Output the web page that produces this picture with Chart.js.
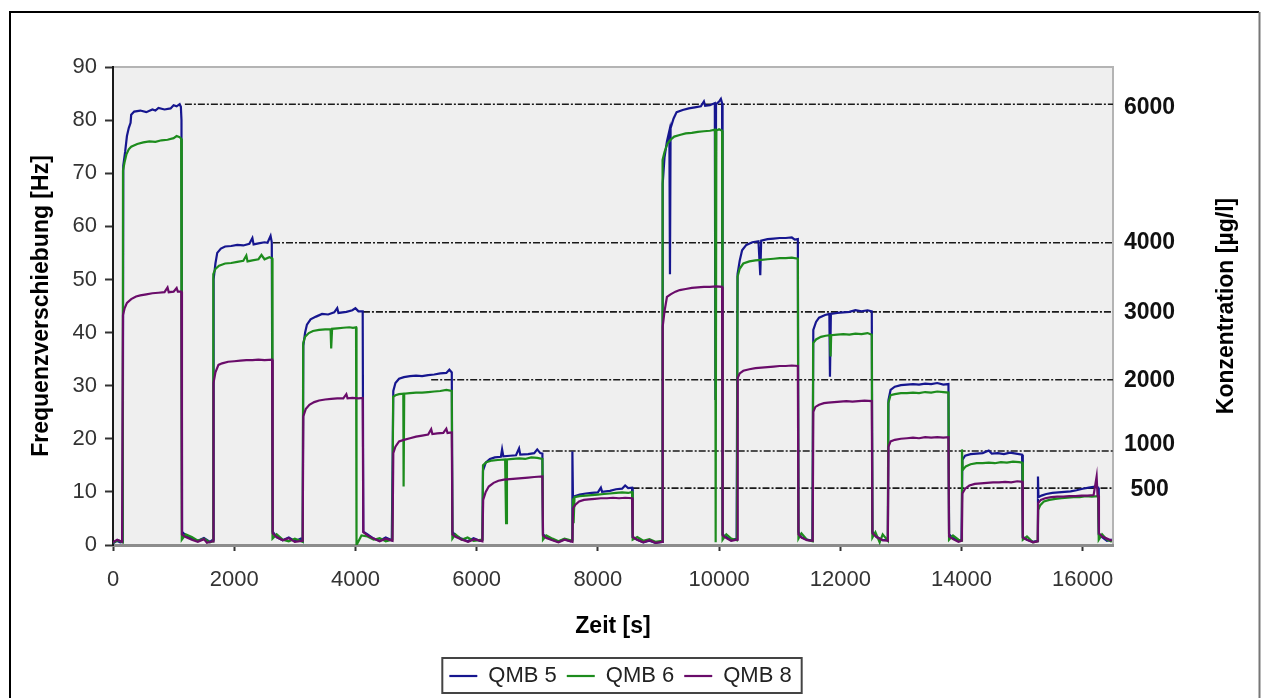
<!DOCTYPE html>
<html>
<head>
<meta charset="utf-8">
<script src="https://cdn.jsdelivr.net/npm/chart.js@4.4.1/dist/chart.umd.min.js"></script>
<style>
  html, body { margin: 0; padding: 0; background: #ffffff; }
  #wrap { position: relative; width: 1261px; height: 698px; overflow: hidden; }
  canvas { display: block; }
</style>
</head>
<body>
<div id="wrap"><canvas id="c" width="1261" height="698"></canvas></div>
<script>
// ---------- data ----------
const xTicks = [0, 2000, 4000, 6000, 8000, 10000, 12000, 14000, 16000];
const yTicks = [0, 10, 20, 30, 40, 50, 60, 70, 80, 90];
const concLabels = ['6000', '4000', '3000', '2000', '1000', '500'];
const concLabelPos = [82.3, 57.0, 43.7, 30.9, 18.8, 10.4];
const concLevels = [83.0, 56.9, 43.9, 31.1, 17.7, 10.7];
const concStarts = [1186, 2640, 4124, 5250, 7090, 8572];
const xEnd = 16500;
const seriesNames = ['QMB 5', 'QMB 6', 'QMB 8'];

const qmb5 = [
[0,0.3],[60,0.8],[120,0.5],[160,0.6],
[170,71.5],[200,74],[230,77],[260,78.5],[290,79.5],[300,81],[350,81.6],[450,81.8],[550,81.5],[650,82],[700,81.8],[750,82.3],[850,82],[950,82.2],[1000,82.8],[1050,82.6],[1100,83],[1120,82.5],[1130,80],
[1140,2.5],[1200,1.8],[1300,1.2],[1400,0.8],[1500,1.3],[1600,0.6],[1650,1],
[1660,50],[1690,53],[1720,55],[1780,55.8],[1850,56.2],[1950,56.3],[2050,56.5],[2150,56.4],[2250,56.7],[2300,57.8],[2320,56.6],[2400,56.8],[2500,57],[2550,56.9],[2600,58.2],[2620,57],
[2635,2.5],[2700,1.5],[2800,0.9],[2900,1.4],[3000,0.7],[3100,1.2],[3130,0.8],
[3140,37.5],[3170,40],[3200,41.5],[3260,42.5],[3350,43],[3450,43.5],[3550,43.4],[3650,43.8],[3700,44.6],[3720,43.7],[3850,43.9],[3950,44.2],[4000,44.6],[4050,44],[4120,44],
[4130,2.5],[4200,2],[4300,1.2],[4400,0.8],[4500,1.4],[4600,0.9],
[4625,29],[4660,30.5],[4720,31.3],[4800,31.6],[4900,31.8],[5000,31.9],[5100,31.8],[5200,32],[5300,32.1],[5400,32.3],[5500,32.4],[5550,33],[5590,32.5],
[5600,2.5],[5650,1.8],[5750,1.2],[5850,0.7],[5950,1.3],[6050,0.8],[6095,1],
[6105,14],[6150,15.5],[6220,16.2],[6300,16.5],[6400,16.6],[6420,18],[6440,16.7],[6550,16.8],[6650,16.9],[6700,18.2],[6720,17],[6850,17.1],[6950,17.3],[7000,18],[7050,17.3],[7085,17.2],
[7095,2],[7150,1.5],[7250,1],[7350,0.6],[7450,1.1],[7550,0.7],[7575,1],
[7580,17.6],[7590,8.5],
[7620,9.2],[7700,9.5],[7800,9.7],[7900,9.8],[8000,9.9],[8050,10.8],[8070,10],[8200,10.2],[8300,10.5],[8400,10.6],[8450,11.2],[8500,10.7],[8565,10.8],
[8575,1.5],[8650,1],[8750,0.5],[8850,0.8],[8950,0.4],[9060,0.6],
[9070,68],[9100,73],[9140,76],[9180,78],[9190,51],[9200,78.5],[9250,80.3],[9300,81.5],[9400,81.9],[9500,82.2],[9600,82.4],[9700,82.6],[9750,83.5],[9770,82.7],[9850,82.8],[9930,83.2],[9940,27.3],[9950,83],[10000,83.5],[10030,84],[10050,83.2],
[10058,2],[10120,1.5],[10200,0.9],[10290,1.2],
[10305,51],[10340,53.5],[10380,55.5],[10450,56.5],[10550,57],[10650,57.2],[10680,50.8],[10695,57.3],[10800,57.6],[10900,57.7],[11000,57.8],[11100,57.8],[11200,57.9],[11250,57.5],[11300,57.6],
[11310,2.5],[11350,1.5],[11450,1],[11540,0.8],
[11555,40.5],[11600,42],[11650,42.8],[11750,43.3],[11820,43.5],[11830,31.7],[11845,43.5],[11950,43.7],[12050,43.8],[12150,43.9],[12250,44.2],[12350,44],[12450,44.2],[12520,44],
[12530,2.5],[12600,1.5],[12700,0.9],[12785,1],
[12795,27.3],[12830,29.2],[12900,29.8],[13000,30.1],[13100,30.2],[13200,30.3],[13300,30.2],[13400,30.4],[13500,30.3],[13600,30.5],[13700,30.2],[13785,30.3],
[13795,2],[13860,1.3],[13950,0.8],[14000,1],
[14015,16],[14060,16.8],[14150,17.1],[14250,17.2],[14350,17.3],[14450,17.8],[14500,17.2],[14600,17.3],[14700,17.1],[14800,17.4],[14900,17.2],[15000,17],
[15012,1.5],[15080,1],[15180,0.6],[15255,0.8],
[15262,12.9],[15270,9],[15320,9.3],[15400,9.6],[15500,9.8],[15600,9.9],[15700,10],[15800,10.1],[15900,10.3],[16000,10.6],[16100,10.8],[16200,11],[16255,10.8],
[16265,2],[16320,1.5],[16400,0.8],[16480,1]
];

const qmb6 = [
[0,0.4],[80,0.9],[160,0.5],
[165,70.5],[190,72],[220,73.5],[260,74.5],[300,75],[400,75.5],[500,75.8],[600,76],[700,75.9],[800,76.2],[900,76.3],[1000,76.6],[1050,77],[1100,76.8],[1125,76.5],
[1135,1],[1200,2],[1300,1.5],[1400,0.8],[1500,1.2],[1600,0.5],[1650,0.7],
[1655,51],[1690,52],[1750,52.6],[1850,53],[1950,53.1],[2050,53.3],[2150,53.5],[2200,54.5],[2220,53.4],[2300,53.6],[2400,53.8],[2450,54.6],[2500,53.8],[2580,54.2],[2625,54],
[2632,1.2],[2700,2],[2800,1],[2900,0.7],[3000,1.2],[3130,0.6],
[3138,38],[3170,39.2],[3230,39.9],[3300,40.3],[3400,40.5],[3500,40.6],[3590,40.6],[3600,37],[3615,40.7],[3700,40.8],[3800,40.9],[3900,41],[3960,40.9],[4010,41],
[4018,0],[4100,1.8],[4200,1.6],[4300,1],[4400,1.3],[4500,0.7],[4610,1],
[4622,27.9],[4660,28.2],[4720,28.4],[4790,28.5],[4795,11],[4805,28.5],[4900,28.6],[5000,28.7],[5100,28.7],[5200,28.8],[5300,28.9],[5400,29],[5500,29.2],[5590,29],
[5600,1.2],[5650,2],[5750,1],[5850,1.4],[5950,0.8],[6095,1],
[6105,15],[6160,15.6],[6250,15.9],[6350,16],[6470,16.1],[6486,4.1],[6500,16.1],[6600,16.2],[6700,16.3],[6800,16.2],[6900,16.5],[7000,16.4],[7085,16.2],
[7095,1],[7150,1.8],[7250,1.2],[7350,0.7],[7450,1.2],[7580,0.8],
[7590,8.8],[7600,4.1],[7615,9],[7700,9.2],[7800,9.3],[7900,9.4],[8000,9.5],[8100,9.6],[8200,9.7],[8300,9.8],[8400,9.9],[8500,9.8],[8565,10],
[8575,1],[8650,1.5],[8750,0.8],[8850,1.1],[8950,0.6],[9060,0.8],
[9068,72.5],[9100,74],[9150,75.6],[9200,76.3],[9260,76.9],[9350,77.2],[9450,77.5],[9550,77.6],[9650,77.8],[9750,77.9],[9850,78],[9935,78.2],[9944,0.5],[9955,78],[10000,78.3],[10050,78],
[10058,1],[10120,2],[10200,1.2],[10295,0.9],
[10305,50.5],[10340,52],[10400,53],[10500,53.4],[10600,53.6],[10700,53.7],[10800,53.8],[10900,53.9],[11000,54],[11100,54],[11200,54.1],[11300,53.9],
[11310,1.2],[11360,2.2],[11450,1],[11545,0.7],
[11552,38],[11600,38.7],[11680,39.2],[11760,39.4],[11830,39.5],[11840,35.5],[11850,39.5],[11950,39.6],[12050,39.7],[12150,39.6],[12250,39.8],[12350,39.7],[12450,39.9],[12520,39.6],
[12530,1.4],[12580,2.4],[12650,0.5],[12700,2],[12785,0.8],
[12792,26.7],[12830,28.2],[12900,28.4],[13000,28.6],[13100,28.6],[13200,28.7],[13300,28.6],[13400,28.8],[13500,28.7],[13600,28.9],[13700,28.8],[13785,28.7],
[13795,1],[13860,1.8],[13950,1],[14003,0.8],
[14008,18],[14020,14.1],[14070,14.8],[14150,15.2],[14250,15.4],[14350,15.4],[14450,15.5],[14550,15.4],[14650,15.6],[14750,15.5],[14850,15.7],[14950,15.6],[15005,15.5],
[15012,1],[15080,1.6],[15180,0.5],[15258,0.7],
[15265,6.6],[15300,7.5],[15360,8.2],[15450,8.5],[15550,8.7],[15650,8.8],[15750,8.9],[15850,9],[15950,9],[16050,9.2],[16150,9.1],[16255,9.2],
[16265,1],[16320,2],[16400,1],[16480,0.6]
];

const qmb8 = [
[0,0.5],[70,1],[150,0.6],
[165,43.3],[190,44.5],[230,45.6],[300,46.3],[380,46.8],[450,47],[550,47.2],[650,47.4],[750,47.5],[850,47.6],[900,48.5],[920,47.6],[1000,47.7],[1050,48.4],[1070,47.7],[1128,47.7],
[1138,2],[1200,1.5],[1300,1],[1400,0.6],[1500,1.1],[1550,0.4],[1650,0.7],
[1658,30.5],[1690,32.5],[1740,33.9],[1800,34.2],[1900,34.5],[2000,34.6],[2100,34.7],[2200,34.8],[2300,34.8],[2400,34.9],[2500,34.8],[2625,34.9],
[2635,2.2],[2700,1.5],[2800,0.9],[2900,1.3],[3000,0.6],[3130,0.8],
[3140,24.2],[3180,25.6],[3240,26.4],[3320,26.9],[3400,27.2],[3500,27.4],[3600,27.5],[3700,27.6],[3800,27.6],[3850,28.4],[3870,27.6],[3950,27.7],[4050,27.6],[4120,27.7],
[4130,2.4],[4200,1.8],[4300,1.2],[4400,0.7],[4500,1.2],[4612,0.8],
[4625,17.3],[4660,18.5],[4720,19.5],[4800,19.8],[4900,20.1],[5000,20.4],[5100,20.6],[5200,20.8],[5250,21.8],[5270,20.9],[5350,21],[5450,21.1],[5500,21.9],[5520,21.1],[5590,21.2],
[5600,2],[5660,1.5],[5760,1],[5860,0.6],[5960,1.1],[6095,0.7],
[6108,8.5],[6150,10],[6200,11],[6280,11.7],[6360,12.1],[6450,12.3],[6550,12.4],[6650,12.5],[6750,12.6],[6850,12.7],[6950,12.8],[7085,12.9],
[7095,1.8],[7150,1.3],[7250,0.9],[7350,0.5],[7450,1],[7580,0.6],
[7590,6.9],[7630,7.6],[7690,8.2],[7770,8.5],[7850,8.6],[7950,8.7],[8050,8.8],[8150,8.8],[8250,8.9],[8350,8.8],[8450,8.9],[8565,8.8],
[8575,1.5],[8650,1],[8750,0.5],[8850,0.9],[8950,0.4],[9060,0.6],
[9070,41.1],[9100,44],[9140,46.7],[9200,47.2],[9280,47.7],[9350,48],[9450,48.2],[9550,48.4],[9650,48.5],[9750,48.6],[9850,48.6],[9950,48.7],[10050,48.6],
[10060,1.8],[10120,1.3],[10200,0.8],[10298,1],
[10308,31.5],[10340,32.3],[10400,32.8],[10500,33.1],[10600,33.3],[10700,33.4],[10800,33.5],[10900,33.6],[11000,33.7],[11100,33.7],[11200,33.8],[11300,33.7],
[11310,2],[11360,1.4],[11450,0.9],[11545,0.8],
[11555,25.1],[11590,26],[11650,26.4],[11730,26.7],[11800,26.8],[11900,26.9],[12000,27],[12100,27.1],[12200,27],[12300,27.1],[12400,27.2],[12520,27.1],
[12530,2.2],[12600,1.5],[12700,0.9],[12785,0.8],
[12795,18.5],[12830,19.5],[12900,19.8],[13000,20],[13100,20.1],[13200,20.2],[13300,20.1],[13400,20.3],[13500,20.2],[13600,20.3],[13700,20.2],[13785,20.3],
[13795,1.6],[13860,1.1],[13950,0.6],[14005,0.8],
[14015,9.7],[14060,10.6],[14130,11.2],[14220,11.5],[14320,11.6],[14420,11.7],[14520,11.8],[14620,11.8],[14720,11.9],[14820,11.8],[14920,12],[15005,11.9],
[15012,1.4],[15080,1],[15180,0.5],[15258,0.7],
[15265,7.9],[15310,8.5],[15380,8.8],[15480,9],[15580,9.1],[15680,9.1],[15780,9.2],[15880,9.2],[15980,9.3],[16080,9.3],[16180,9.4],[16230,12.9],[16245,9.3],[16258,9.3],
[16268,2.2],[16320,1.6],[16400,1.2],[16480,0.8]
];

// ---------- styling ----------
const FONT = "'Liberation Sans', Arial, sans-serif";
Chart.defaults.font.family = FONT;
const seriesColors = ['#16168f', '#1d8c1d', '#6a0c6a'];
const seriesData = [qmb5, qmb6, qmb8];

const datasets = seriesData.map((arr, i) => ({
  label: seriesNames[i],
  data: arr.map(([x, y]) => ({ x, y })),
  borderColor: seriesColors[i],
  backgroundColor: seriesColors[i],
  borderWidth: 2.2,
  pointRadius: 0,
  tension: 0,
  fill: false,
  order: 3 - i
}));
concLevels.forEach((lvl, i) => {
  datasets.push({
    label: 'c' + concLabels[i],
    data: [{ x: concStarts[i], y: lvl }, { x: xEnd, y: lvl }],
    borderColor: '#1a1a1a',
    borderWidth: 1.6,
    borderDash: [7, 2, 2, 2],
    pointRadius: 0,
    fill: false,
    order: 10
  });
});

const framePlugin = {
  id: 'frame',
  beforeDraw(chart) {
    const { ctx, chartArea: a } = chart;
    ctx.save();
    ctx.strokeStyle = '#000';
    ctx.lineWidth = 2;
    ctx.beginPath();
    ctx.moveTo(10, 700); ctx.lineTo(10, 12); ctx.lineTo(1259, 12);
    ctx.stroke();
    ctx.strokeStyle = '#777';
    ctx.beginPath();
    ctx.moveTo(1259.5, 12); ctx.lineTo(1259.5, 700);
    ctx.stroke();
    ctx.fillStyle = '#efefef';
    ctx.fillRect(a.left, a.top, a.right - a.left, a.bottom - a.top);
    ctx.strokeStyle = '#b4b4b4';
    ctx.lineWidth = 2;
    ctx.beginPath();
    ctx.moveTo(a.left, a.top); ctx.lineTo(a.right, a.top); ctx.lineTo(a.right, a.bottom);
    ctx.stroke();
    ctx.restore();
  },
  afterDraw(chart) {
    const { ctx } = chart;
    ctx.save();
    ctx.translate(1227, 306);
    ctx.rotate(-Math.PI / 2);
    ctx.font = "bold 23px " + FONT;
    ctx.fillStyle = '#000';
    ctx.textAlign = 'center';
    ctx.textBaseline = 'middle';
    ctx.fillText('Konzentration [µg/l]', 0, 0);
    ctx.restore();
    const lg = chart.legend;
    if (lg && lg.legendHitBoxes && lg.legendHitBoxes.length) {
      let l = Infinity, r = -Infinity, t = Infinity, b = -Infinity;
      lg.legendHitBoxes.forEach(h => {
        l = Math.min(l, h.left); r = Math.max(r, h.left + h.width);
        t = Math.min(t, h.top); b = Math.max(b, h.top + h.height);
      });
      ctx.save();
      ctx.strokeStyle = '#444';
      ctx.lineWidth = 2;
      ctx.strokeRect(l - 7, t - 7, (r - l) + 17, (b - t) + 13);
      ctx.restore();
    }
  }
};

new Chart(document.getElementById('c'), {
  type: 'line',
  data: { datasets },
  plugins: [framePlugin],
  options: {
    responsive: false,
    animation: false,
    devicePixelRatio: 1,
    layout: { padding: { left: 20, right: 40, top: 67, bottom: 1 } },
    plugins: {
      tooltip: { enabled: false },
      legend: {
        position: 'bottom',
        labels: {
          usePointStyle: true,
          pointStyle: 'line',
          pointStyleWidth: 28,
          padding: 10,
          color: '#222',
          font: { size: 22 },
          filter: item => item.datasetIndex < 3,
          sort: (a, b) => a.datasetIndex - b.datasetIndex
        }
      }
    },
    scales: {
      x: {
        type: 'linear',
        min: 0,
        max: xEnd,
        afterBuildTicks: s => { s.ticks = xTicks.map(v => ({ value: v })); },
        afterFit: s => { s.height = 110; },
        ticks: { color: '#333', font: { size: 22 }, padding: 16, maxRotation: 0, autoSkip: false, callback: v => String(v) },
        grid: { drawOnChartArea: false, drawTicks: true, tickLength: 6, tickColor: '#333', tickWidth: 2 },
        border: { display: true, color: '#8c8c8c', width: 3 },
        title: { display: true, text: 'Zeit [s]', color: '#000', font: { size: 23, weight: 'bold' }, padding: { top: 0, bottom: 15 } }
      },
      y: {
        type: 'linear',
        position: 'left',
        min: 0,
        max: 90,
        afterBuildTicks: s => { s.ticks = yTicks.map(v => ({ value: v })); },
        afterFit: s => { s.width = 93; },
        ticks: { color: '#333', font: { size: 22 }, padding: 8, autoSkip: false, callback: v => String(v) },
        grid: { drawOnChartArea: false, drawTicks: true, tickLength: 8, tickColor: '#333', tickWidth: 2 },
        border: { display: true, color: '#1a1a1a', width: 2 },
        title: { display: true, text: 'Frequenzverschiebung [Hz]', color: '#000', font: { size: 23, weight: 'bold' }, padding: { top: 8, bottom: 0 } }
      },
      yR: {
        type: 'linear',
        position: 'right',
        min: 0,
        max: 90,
        afterBuildTicks: s => { s.ticks = concLabelPos.map(v => ({ value: v })); },
        afterFit: s => { s.width = 108; },
        ticks: {
          color: '#111',
          font: { size: 23, weight: 'bold' },
          padding: 11,
          crossAlign: 'center',
          autoSkip: false,
          callback: (v, i) => concLabels[i]
        },
        grid: { display: false, drawTicks: false, tickLength: 0 },
        border: { display: false }
      }
    }
  }
});
</script>
</body>
</html>
